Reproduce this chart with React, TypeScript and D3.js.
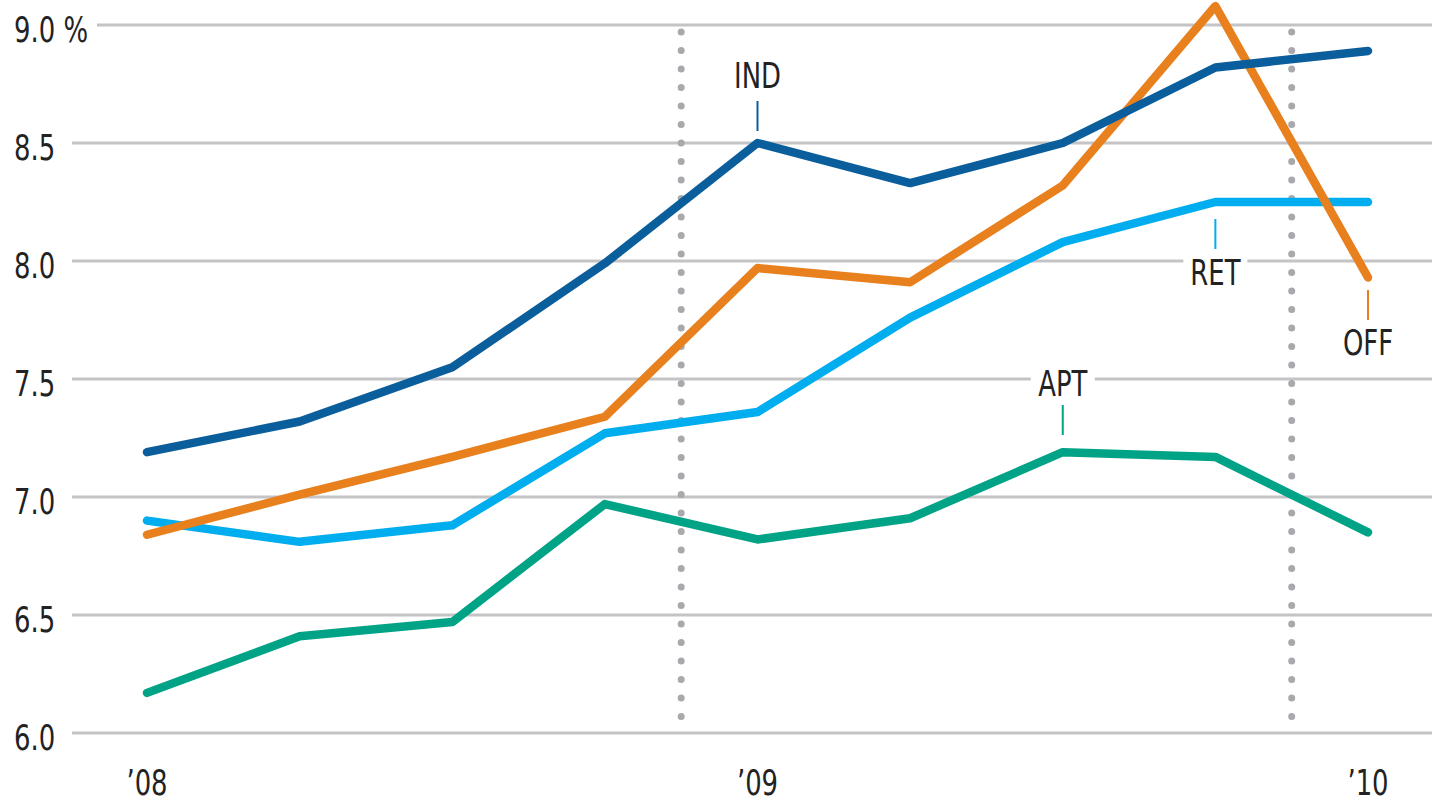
import React from 'react';
import * as d3 from 'd3';

const quarters = ['Q1 08', 'Q2 08', 'Q3 08', 'Q4 08', 'Q1 09', 'Q2 09', 'Q3 09', 'Q4 09', 'Q1 10'];
const indValues = [7.19, 7.32, 7.55, 7.99, 8.5, 8.33, 8.5, 8.82, 8.89];
const offValues = [6.84, 7.01, 7.17, 7.34, 7.97, 7.91, 8.32, 9.08, 7.93];
const retValues = [6.9, 6.81, 6.88, 7.27, 7.36, 7.76, 8.08, 8.25, 8.25];
const aptValues = [6.17, 6.41, 6.47, 6.97, 6.82, 6.91, 7.19, 7.17, 6.85];
const yTicks = [6.0, 6.5, 7.0, 7.5, 8.0, 8.5, 9.0];
const yearLabels = ["’08", "’09", "’10"];
const yearIdx = [0, 4, 8];
const yearBreaks = [3.5, 7.5];

const FONT = "'DejaVu Sans Condensed', 'DejaVu Sans', sans-serif";

const series = [
  { name: 'IND', values: indValues, color: '#0b5e9c', at: 4, labelY: 75, tick: [101, 131] },
  { name: 'OFF', values: offValues, color: '#e8801e', at: 8, labelY: 342, tick: [290, 320] },
  { name: 'RET', values: retValues, color: '#00adee', at: 7, labelY: 272, tick: [219, 249] },
  { name: 'APT', values: aptValues, color: '#00a386', at: 6, labelY: 383, tick: [405, 435] },
];

// condensed label text: narrow the glyphs horizontally around the anchor
const Label = (props: { x: number; y: number; anchor?: string; children: React.ReactNode }) => (
  <g transform={`translate(${props.x},${props.y}) scale(0.8,1)`}>
    <text
      x={0}
      y={0}
      textAnchor={props.anchor || 'start'}
      fontFamily={FONT}
      fontStretch="condensed"
      fontSize={36}
      fill="#222"
    >
      {props.children}
    </text>
  </g>
);

export default function App() {
  const width = 1432;
  const height = 804;

  const x = d3.scaleLinear().domain([0, quarters.length - 1]).range([147, 1368]);
  const y = d3.scaleLinear().domain([6, 9]).range([733, 25]);

  const line = d3
    .line<number>()
    .x((d, i) => x(i))
    .y(d => y(d));

  // draw order: apt, ret, off, ind on top
  const drawOrder = ['APT', 'RET', 'OFF', 'IND'];

  return (
    <svg width={width} height={height} style={{ position: 'absolute', left: 0, top: 0, background: '#fff' }}>
      {/* gridlines */}
      {yTicks.map(t => (
        <line
          key={t}
          x1={t === 9 ? 97 : 72}
          x2={width}
          y1={y(t)}
          y2={y(t)}
          stroke="#c4c4c6"
          strokeWidth={3}
        />
      ))}
      {yTicks.map(t => (
        <Label key={'l' + t} x={14} y={y(t) + 17}>
          {t.toFixed(1)}
          {t === 9 ? '  %' : ''}
        </Label>
      ))}

      {/* year separators */}
      {yearBreaks.map(b => (
        <line
          key={b}
          x1={x(b)}
          x2={x(b)}
          y1={32}
          y2={735}
          stroke="#a9a9ad"
          strokeWidth={7}
          strokeLinecap="round"
          strokeDasharray="0 18.5"
        />
      ))}

      {/* series */}
      {drawOrder.map(n => {
        const s = series.find(d => d.name === n)!;
        return (
          <path
            key={n}
            d={line(s.values) || ''}
            fill="none"
            stroke={s.color}
            strokeWidth={8.5}
            strokeLinejoin="round"
            strokeLinecap="round"
          />
        );
      })}

      {/* labels */}
      {series.map(s => {
        const cx = x(s.at);
        return (
          <g key={'lab' + s.name}>
            <rect x={cx - 32} y={s.labelY - 18} width={64} height={36} fill="#fff" />
            <Label x={cx} y={s.labelY + 13} anchor="middle">
              {s.name}
            </Label>
            <line x1={cx} x2={cx} y1={s.tick[0]} y2={s.tick[1]} stroke={s.color} strokeWidth={2} />
          </g>
        );
      })}

      {/* x labels */}
      {yearLabels.map((l, i) => (
        <Label key={l} x={x(yearIdx[i])} y={795} anchor="middle">
          {l}
        </Label>
      ))}
    </svg>
  );
}
